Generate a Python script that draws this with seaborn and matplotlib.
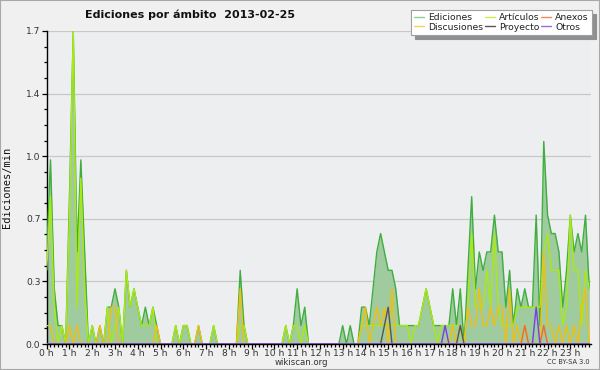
import numpy as np
import pandas as pd
import matplotlib
matplotlib.use("Agg")
import matplotlib.pyplot as plt
import seaborn as sns
from matplotlib.ticker import FixedLocator, MultipleLocator
from matplotlib.lines import Line2D
from matplotlib.patches import Rectangle

# ---- data: edits per minute, 10-minute bins (6 per hour) ----
ediciones = [
    0.5, 1.0, 0.3, 0.1, 0.1, 0.0,   # 0h
    0.8, 1.7, 0.5, 1.0, 0.5, 0.0,   # 1h
    0.1, 0.0, 0.1, 0.0, 0.2, 0.2,   # 2h
    0.3, 0.2, 0.0, 0.4, 0.2, 0.3,   # 3h
    0.2, 0.1, 0.2, 0.1, 0.2, 0.1,   # 4h
    0.0, 0.0, 0.0, 0.0, 0.1, 0.0,   # 5h
    0.1, 0.1, 0.0, 0.0, 0.1, 0.0,   # 6h
    0.0, 0.0, 0.1, 0.0, 0.0, 0.0,   # 7h
    0.0, 0.0, 0.0, 0.4, 0.1, 0.0,   # 8h
    0.0, 0.0, 0.0, 0.0, 0.0, 0.0,   # 9h
    0.0, 0.0, 0.0, 0.1, 0.0, 0.1,   # 10h
    0.3, 0.1, 0.2, 0.0, 0.0, 0.0,   # 11h
    0.0, 0.0, 0.0, 0.0, 0.0, 0.0,   # 12h
    0.1, 0.0, 0.1, 0.0, 0.0, 0.2,   # 13h
    0.2, 0.1, 0.3, 0.5, 0.6, 0.5,   # 14h
    0.4, 0.4, 0.3, 0.1, 0.1, 0.1,   # 15h
    0.1, 0.1, 0.1, 0.2, 0.3, 0.2,   # 16h
    0.1, 0.1, 0.1, 0.1, 0.1, 0.3,   # 17h
    0.1, 0.3, 0.0, 0.4, 0.8, 0.3,   # 18h
    0.5, 0.4, 0.5, 0.5, 0.7, 0.5,   # 19h
    0.5, 0.2, 0.4, 0.1, 0.3, 0.2,   # 20h
    0.3, 0.2, 0.2, 0.7, 0.1, 1.1,   # 21h
    0.7, 0.6, 0.6, 0.5, 0.2, 0.4,   # 22h
    0.7, 0.5, 0.6, 0.5, 0.7, 0.3,   # 23h
]
articulos = [
    0.4, 0.8, 0.2, 0.0, 0.1, 0.0,
    0.7, 1.7, 0.2, 0.9, 0.3, 0.0,
    0.1, 0.0, 0.0, 0.0, 0.2, 0.0,
    0.1, 0.2, 0.0, 0.4, 0.2, 0.3,
    0.2, 0.1, 0.1, 0.1, 0.2, 0.0,
    0.0, 0.0, 0.0, 0.0, 0.1, 0.0,
    0.1, 0.1, 0.0, 0.0, 0.0, 0.0,
    0.0, 0.0, 0.1, 0.0, 0.0, 0.0,
    0.0, 0.0, 0.0, 0.1, 0.1, 0.0,
    0.0, 0.0, 0.0, 0.0, 0.0, 0.0,
    0.0, 0.0, 0.0, 0.1, 0.0, 0.1,
    0.1, 0.0, 0.1, 0.0, 0.0, 0.0,
    0.0, 0.0, 0.0, 0.0, 0.0, 0.0,
    0.0, 0.0, 0.0, 0.0, 0.0, 0.1,
    0.1, 0.1, 0.1, 0.1, 0.1, 0.1,
    0.1, 0.1, 0.1, 0.1, 0.1, 0.1,
    0.0, 0.1, 0.1, 0.2, 0.3, 0.2,
    0.1, 0.0, 0.1, 0.1, 0.1, 0.1,
    0.1, 0.1, 0.0, 0.2, 0.6, 0.2,
    0.2, 0.2, 0.4, 0.2, 0.6, 0.2,
    0.1, 0.1, 0.1, 0.1, 0.2, 0.2,
    0.2, 0.2, 0.2, 0.2, 0.2, 0.5,
    0.6, 0.4, 0.4, 0.4, 0.1, 0.2,
    0.7, 0.4, 0.4, 0.1, 0.4, 0.3,
]
discusiones = [
    0.1, 0.1, 0.0, 0.0, 0.0, 0.0,
    0.1, 0.0, 0.1, 0.0, 0.0, 0.0,
    0.0, 0.0, 0.1, 0.0, 0.0, 0.2,
    0.2, 0.0, 0.0, 0.0, 0.0, 0.0,
    0.0, 0.0, 0.0, 0.0, 0.0, 0.1,
    0.0, 0.0, 0.0, 0.0, 0.0, 0.0,
    0.0, 0.0, 0.0, 0.0, 0.1, 0.0,
    0.0, 0.0, 0.0, 0.0, 0.0, 0.0,
    0.0, 0.0, 0.0, 0.3, 0.0, 0.0,
    0.0, 0.0, 0.0, 0.0, 0.0, 0.0,
    0.0, 0.0, 0.0, 0.0, 0.0, 0.0,
    0.0, 0.0, 0.0, 0.0, 0.0, 0.0,
    0.0, 0.0, 0.0, 0.0, 0.0, 0.0,
    0.0, 0.0, 0.0, 0.0, 0.0, 0.1,
    0.2, 0.0, 0.1, 0.2, 0.1, 0.2,
    0.0, 0.3, 0.0, 0.0, 0.0, 0.0,
    0.0, 0.0, 0.0, 0.0, 0.0, 0.0,
    0.0, 0.0, 0.0, 0.0, 0.0, 0.1,
    0.0, 0.1, 0.0, 0.2, 0.1, 0.1,
    0.3, 0.1, 0.1, 0.2, 0.1, 0.2,
    0.2, 0.0, 0.3, 0.0, 0.1, 0.0,
    0.1, 0.0, 0.0, 0.0, 0.0, 0.5,
    0.1, 0.1, 0.0, 0.1, 0.0, 0.1,
    0.0, 0.1, 0.0, 0.2, 0.3, 0.0,
]
proyecto = [0.0] * 144
for i, v in {89: 0.1, 90: 0.2, 109: 0.1}.items():
    proyecto[i] = v
anexos = [0.0] * 144
for i, v in {126: 0.1, 131: 0.1}.items():
    anexos[i] = v
otros = [0.0] * 144
for i, v in {105: 0.1, 129: 0.2}.items():
    otros[i] = v

hour_labels = [f"{h} h" for h in range(24)]
ytick_values = [0.0, 0.34, 0.68, 1.02, 1.36, 1.7]
ytick_labels = ["0.0", "0.3", "0.7", "1.0", "1.4", "1.7"]

# ---- styling ----
sns.set_theme(style="white")
plt.rcParams["font.family"] = ["DejaVu Sans"]

c_edi_line = "#3fae3f"
c_edi_fill = "#9fcb9f"
c_art = "#aaea10"
c_dis = "#f2bf10"
c_pro = "#555555"
c_anx = "#f26a2a"
c_otr = "#7a3de0"

t = np.arange(len(ediciones)) / 6.0
df = pd.DataFrame({"t": t, "Ediciones": ediciones, "Artículos": articulos,
                   "Discusiones": discusiones, "Proyecto": proyecto,
                   "Anexos": anexos, "Otros": otros})

fig = plt.figure(figsize=(6.0, 3.7), dpi=100, facecolor="#f0f0f0")
ax = fig.add_axes([46.7 / 600, 26 / 370, (591 - 46.7) / 600, (344 - 31) / 370])
ax.set_facecolor("#eceef0")

ax.fill_between(df["t"], 0, df["Ediciones"], color=c_edi_fill, lw=0, zorder=1)
lw = 1.0
sns.lineplot(data=df, x="t", y="Ediciones", ax=ax, color=c_edi_line, lw=lw, zorder=3)
sns.lineplot(data=df, x="t", y="Artículos", ax=ax, color=c_art, lw=lw, zorder=4)
sns.lineplot(data=df, x="t", y="Discusiones", ax=ax, color=c_dis, lw=lw, zorder=5)
sns.lineplot(data=df, x="t", y="Anexos", ax=ax, color=c_anx, lw=lw, zorder=6)
sns.lineplot(data=df, x="t", y="Proyecto", ax=ax, color=c_pro, lw=lw, zorder=6)
sns.lineplot(data=df, x="t", y="Otros", ax=ax, color=c_otr, lw=lw, zorder=7)

ax.set_xlim(0, 143.45 / 6)
ax.set_ylim(0, 1.7)

# y axis
ax.yaxis.set_major_locator(FixedLocator(ytick_values))
ax.set_yticklabels(ytick_labels)
ax.yaxis.set_minor_locator(MultipleLocator(0.085))
ax.grid(axis="y", which="major", color="#c8c8c8", lw=0.9, zorder=0)
ax.set_axisbelow(True)

# x axis
ax.xaxis.set_major_locator(FixedLocator(list(range(24))))
ax.set_xticklabels(hour_labels)
ax.xaxis.set_minor_locator(MultipleLocator(1 / 6))

ax.tick_params(axis="both", which="major", direction="out", length=3.5, width=0.9,
               colors="black", labelsize=6.6, labelcolor="#333333")
ax.tick_params(axis="x", which="major", pad=0.2)
ax.tick_params(axis="y", which="major", pad=1.0)
ax.tick_params(axis="both", which="minor", direction="out", length=2.5, width=0.9,
               colors="black")
ax.tick_params(axis="x", which="both", bottom=True)
ax.tick_params(axis="y", which="both", left=True)

for s in ["top", "right"]:
    ax.spines[s].set_visible(False)
for s in ["left", "bottom"]:
    ax.spines[s].set_color("black")
    ax.spines[s].set_linewidth(1.0)

ax.set_xlabel("")
ax.set_ylabel("Ediciones/min", family="DejaVu Sans Mono", fontsize=7.5, color="#111111")
ax.yaxis.set_label_coords(-0.064, 0.5)

# title
fig.text(85 / 600, 1 - 15 / 370, "Ediciones por ámbito  2013-02-25",
         fontsize=8.0, fontweight="bold", va="center", ha="left", color="#111111")

# legend
handles = [
    Line2D([], [], color="#8fd08f", lw=1.0),
    Line2D([], [], color="#f7d24a", lw=1.0),
    Line2D([], [], color="#c8f04a", lw=1.0),
    Line2D([], [], color="#555555", lw=1.0),
    Line2D([], [], color="#f58a5a", lw=1.0),
    Line2D([], [], color="#9a6ae8", lw=1.0),
]
labels = ["Ediciones", "Discusiones", "Artículos", "Proyecto", "Anexos", "Otros"]
leg = fig.legend(handles, labels, ncol=3, loc="upper right",
                 bbox_to_anchor=(592 / 600, 1 - 10 / 370),
                 fontsize=6.7, frameon=True, fancybox=False,
                 shadow={"color": "#909090", "alpha": 1.0, "ox": 3, "oy": -3},
                 handlelength=1.1, handletextpad=0.4, columnspacing=0.2,
                 labelspacing=0.05, borderpad=0.35, borderaxespad=0)
leg.get_frame().set_edgecolor("#a0a0a0")
leg.get_frame().set_linewidth(0.8)
leg.get_frame().set_facecolor("white")
for txt in leg.get_texts():
    txt.set_color("#222222")

# footer texts
fig.text(301 / 600, 1 - 362.5 / 370, "wikiscan.org", fontsize=6.2, ha="center",
         va="center", color="#333333")
fig.text(590 / 600, 1 - 362.5 / 370, "CC BY-SA 3.0", fontsize=4.8, ha="right",
         va="center", color="#333333")

# frame around the image
fig.patches.append(Rectangle((0, 0), 1, 1, transform=fig.transFigure, fill=False,
                             edgecolor="#a8a8a8", lw=1.5))

fig.savefig("out.png", dpi=100, facecolor=fig.get_facecolor())
